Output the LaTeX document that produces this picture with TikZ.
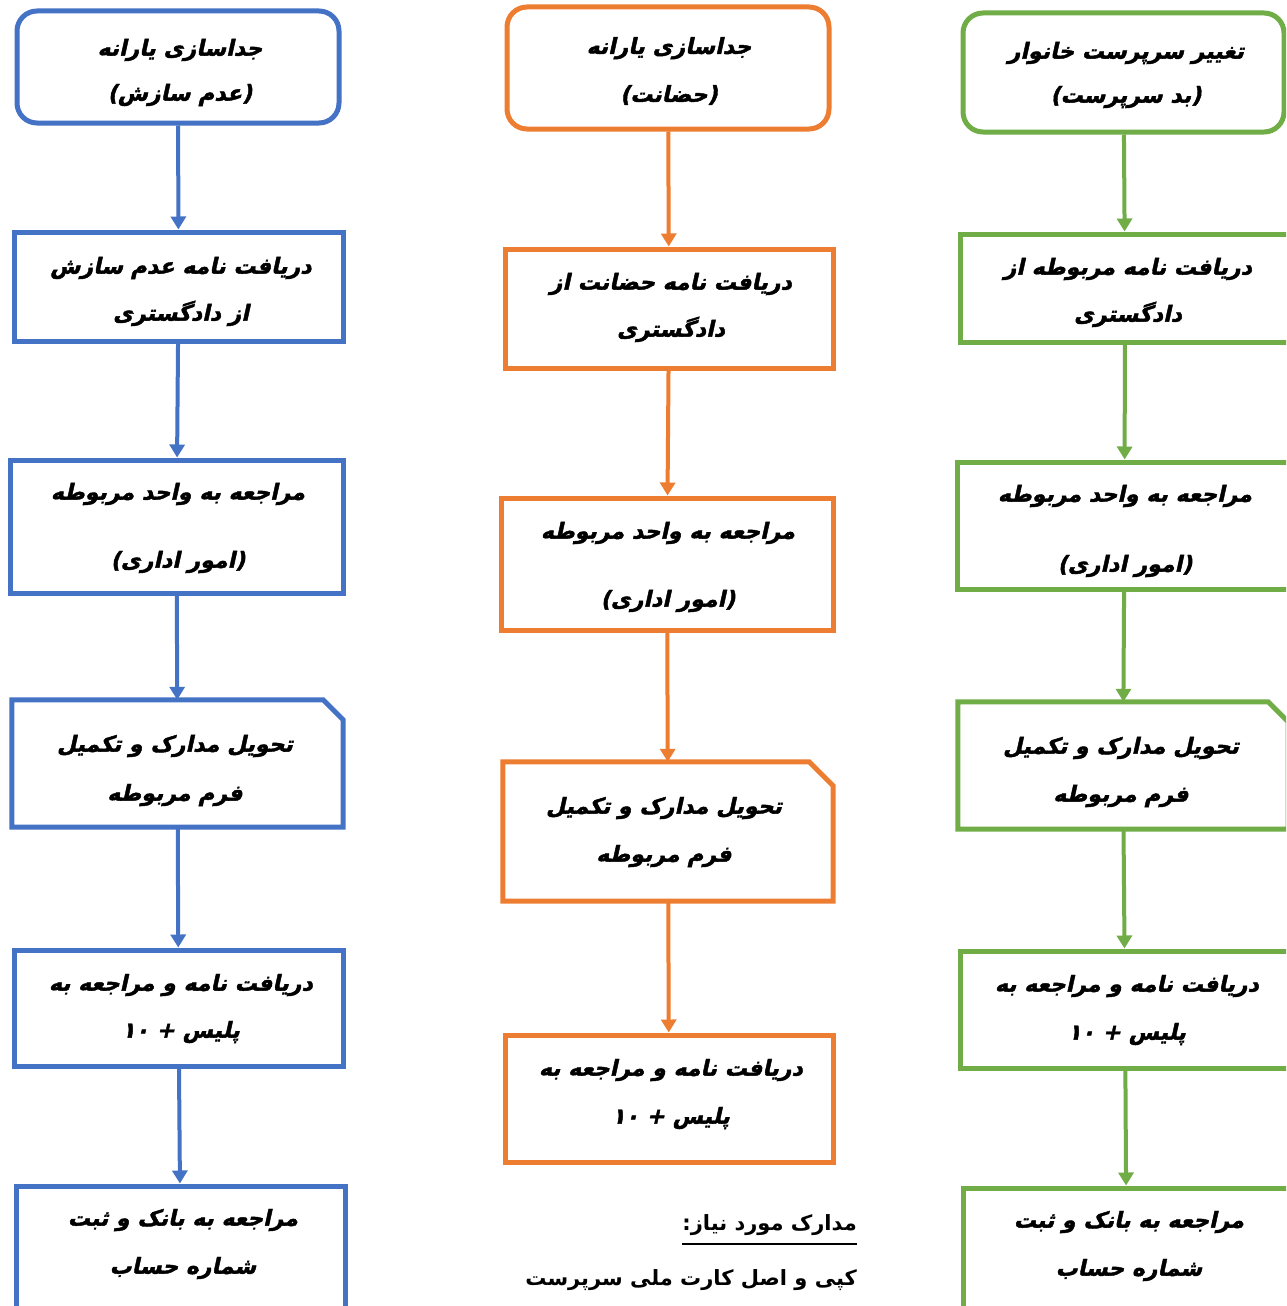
\documentclass[tikz,border=0pt]{standalone}
\usepackage{fontspec}
\usetikzlibrary{arrows.meta}
\TeXXeTstate=1
\newfontfamily\fabox[Script=Arabic,FakeSlant=0.22,FakeBold=2]{DejaVu Sans}
\newfontfamily\fanote[Script=Arabic]{DejaVu Sans}
\definecolor{cblue}{HTML}{4472C4}
\definecolor{corange}{HTML}{ED7D31}
\definecolor{cgreen}{HTML}{70AD47}
\newcommand\rtl[1]{\beginR #1\endR}
\tikzset{
  bx/.style={draw=#1, line width=5pt, inner sep=0pt, fill=white},
  rbx/.style={bx=#1, rounded corners=20pt},
  chbx/.style={inner sep=0pt},
  txt/.style={font=\fabox\bfseries\fontsize{22}{#1}\selectfont, align=center, inner sep=0pt},
  txt/.default=47,
  note/.style={font=\fanote\bfseries\fontsize{21}{26}\selectfont, anchor=east, inner sep=0pt},
  arr/.style={draw=#1, line width=4pt, -{Triangle[width=15pt,length=13pt]}},
}
\newcommand\chamf[3]{% node, colour, size
  \draw[#2, line width=5pt, line join=miter] (#1.south west) -- (#1.north west) -- ([xshift=-#3pt]#1.north east) -- ([yshift=-#3pt]#1.north east) -- (#1.south east) -- cycle;}
\begin{document}
\begin{tikzpicture}[x=1pt,y=-1pt]
\useasboundingbox (0,0) rectangle (1286,1306);
\fill[white] (0,0) rectangle (1286,1306);
\clip (0,0) rectangle (1286,1306);

% ---------- left column (blue)
\node[rbx=cblue, minimum width=322pt, minimum height=112pt] (L1) at (178,67) {};
\node[bx=cblue, minimum width=329pt, minimum height=109pt] (L2) at (178.5,286.5) {};
\node[bx=cblue, minimum width=333pt, minimum height=133pt] (L3) at (176.5,526.5) {};
\node[chbx, minimum width=331pt, minimum height=127pt] (L4) at (177.5,763.5) {};
\chamf{L4}{cblue}{20}
\node[bx=cblue, minimum width=329pt, minimum height=116pt] (L5) at (178.5,1008) {};
\node[bx=cblue, minimum width=329pt, minimum height=134pt] (L6) at (180.5,1253) {};

\node[txt=45] (Lt1) at (180,72.5) {\rtl{جداسازی یارانه}\\\rtl{(عدم سازش)}};
\node[txt=47] (Lt2) at (181,291.5) {\rtl{دریافت نامه عدم سازش}\\\rtl{از دادگستری}};
\node[txt=68] (Lt3) at (178,528) {\rtl{مراجعه به واحد مربوطه}\\\rtl{(امور اداری)}};
\node[txt=49] (Lt4) at (175,770.5) {\rtl{تحویل مدارک و تکمیل}\\\rtl{فرم مربوطه}};
\node[txt=47] (Lt5) at (181,1008.5) {\rtl{دریافت نامه و مراجعه به}\\\rtl{پلیس + ۱۰}};
\node[txt=48] (Lt6) at (183,1244) {\rtl{مراجعه به بانک و ثبت}\\\rtl{شماره حساب}};

\draw[arr=cblue] (L1) -- (L2);
\draw[arr=cblue] (L2) -- (L3);
\draw[arr=cblue] (L3) -- (L4);
\draw[arr=cblue] (L4) -- (L5);
\draw[arr=cblue] (L5) -- (L6);

% ---------- middle column (orange)
\node[rbx=corange, minimum width=322pt, minimum height=122pt] (M1) at (668,68) {};
\node[bx=corange, minimum width=328pt, minimum height=119pt] (M2) at (669,308.5) {};
\node[bx=corange, minimum width=332pt, minimum height=132pt] (M3) at (667,564) {};
\node[chbx, minimum width=330pt, minimum height=139pt] (M4) at (668,831.5) {};
\chamf{M4}{corange}{24}
\node[bx=corange, minimum width=328pt, minimum height=127pt] (M5) at (669,1098.5) {};

\node[txt=48] (Mt1) at (669,71) {\rtl{جداسازی یارانه}\\\rtl{(حضانت)}};
\node[txt=47] (Mt2) at (671,307.5) {\rtl{دریافت نامه حضانت از}\\\rtl{دادگستری}};
\node[txt=68] (Mt3) at (668,567) {\rtl{مراجعه به واحد مربوطه}\\\rtl{(امور اداری)}};
\node[txt=48] (Mt4) at (664,832) {\rtl{تحویل مدارک و تکمیل}\\\rtl{فرم مربوطه}};
\node[txt=48] (Mt5) at (671,1094) {\rtl{دریافت نامه و مراجعه به}\\\rtl{پلیس + ۱۰}};

\draw[arr=corange] (M1) -- (M2);
\draw[arr=corange] (M2) -- (M3);
\draw[arr=corange] (M3) -- (M4);
\draw[arr=corange] (M4) -- (M5);

\node[note] (N1) at (857,1225) {\rtl{مدارک مورد نیاز:}};
\draw[line width=1.5pt] ([yshift=-8pt]N1.south west) -- ([yshift=-8pt]N1.south east);
\node[note] (N2) at (857,1280) {\rtl{کپی و اصل کارت ملی سرپرست}};

% ---------- right column (green)
\node[rbx=cgreen, minimum width=321pt, minimum height=119pt] (R1) at (1123.5,72.5) {};
\node[bx=cgreen, minimum width=330pt, minimum height=108pt] (R2) at (1125,288) {};
\node[bx=cgreen, minimum width=335pt, minimum height=127pt] (R3) at (1124.5,525.5) {};
\node[chbx, minimum width=330pt, minimum height=127pt] (R4) at (1123,765.5) {};
\chamf{R4}{cgreen}{20}
\node[bx=cgreen, minimum width=330pt, minimum height=117pt] (R5) at (1125,1009.5) {};
\node[bx=cgreen, minimum width=327pt, minimum height=132pt] (R6) at (1126.5,1254) {};

\node[txt=44] (Rt1) at (1126,75) {\rtl{تغییر سرپرست خانوار}\\\rtl{(بد سرپرست)}};
\node[txt=47] (Rt2) at (1128,292.5) {\rtl{دریافت نامه مربوطه از}\\\rtl{دادگستری}};
\node[txt=70] (Rt3) at (1125,531) {\rtl{مراجعه به واحد مربوطه}\\\rtl{(امور اداری)}};
\node[txt=48] (Rt4) at (1121,772) {\rtl{تحویل مدارک و تکمیل}\\\rtl{فرم مربوطه}};
\node[txt=48] (Rt5) at (1127,1010) {\rtl{دریافت نامه و مراجعه به}\\\rtl{پلیس + ۱۰}};
\node[txt=48] (Rt6) at (1129,1246) {\rtl{مراجعه به بانک و ثبت}\\\rtl{شماره حساب}};

\draw[arr=cgreen] (R1) -- (R2);
\draw[arr=cgreen] (R2) -- (R3);
\draw[arr=cgreen] (R3) -- (R4);
\draw[arr=cgreen] (R4) -- (R5);
\draw[arr=cgreen] (R5) -- (R6);
\end{tikzpicture}
\end{document}
